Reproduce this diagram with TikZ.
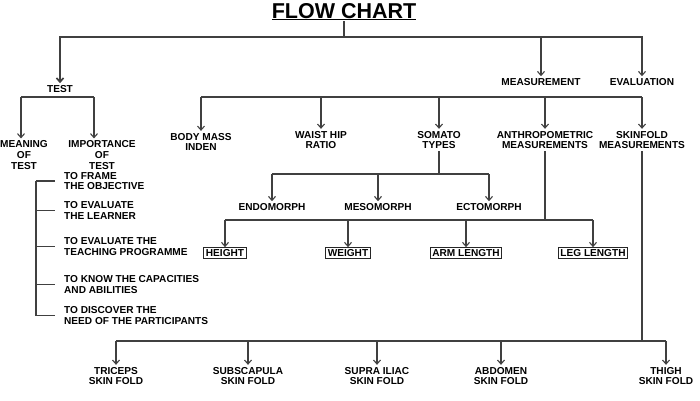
\documentclass[tikz,border=0pt]{standalone}
\usepackage{fontspec}
\setmainfont{Liberation Sans}
\usetikzlibrary{arrows.meta}

\begin{document}
\begin{tikzpicture}[x=1pt,y=-1pt,
  every node/.style={font=\bfseries\fontsize{10.1}{10.8}\selectfont,align=center,inner sep=2pt},
  line/.style={draw=black!75,line width=1.1pt},
  arr/.style={line,-{Straight Barb[length=4pt,width=7pt]}},
  box/.style={draw=black!85,line width=0.9pt,inner xsep=2pt,inner ysep=1.8pt}]
\useasboundingbox (0,0) rectangle (700,400);

\node[font=\bfseries\fontsize{21.5}{24}\selectfont,inner sep=1pt,anchor=base] (F) at (344,18) {\underline{FLOW CHART}};
\node (T) at (60,89) {TEST};
\node (M) at (541,82) {MEASUREMENT};
\node (E) at (642,82) {EVALUATION};

\node (T1) at (24,155) {MEANING\\OF\\TEST};
\node (T2) at (102,155) {IMPORTANCE\\OF\\TEST};
\node[anchor=west,align=left] (I1) at (62,181) {TO FRAME\\THE OBJECTIVE};
\node[anchor=west,align=left] (I2) at (62,210.5) {TO EVALUATE\\THE LEARNER};
\node[anchor=west,align=left] (I3) at (62,246.5) {TO EVALUATE THE\\TEACHING PROGRAMME};
\node[anchor=west,align=left] (I4) at (62,284.5) {TO KNOW THE CAPACITIES\\AND ABILITIES};
\node[anchor=west,align=left] (I5) at (62,315.5) {TO DISCOVER THE\\NEED OF THE PARTICIPANTS};

\node (M1) at (201,142) {BODY MASS\\INDEN};
\node (M2) at (321,140) {WAIST HIP\\RATIO};
\node (M3) at (439,140) {SOMATO\\TYPES};
\node (M4) at (545,140) {ANTHROPOMETRIC\\MEASUREMENTS};
\node (M5) at (642,140) {SKINFOLD\\MEASUREMENTS};

\node (S1) at (272,207) {ENDOMORPH};
\node (S2) at (378,207) {MESOMORPH};
\node (S3) at (489,207) {ECTOMORPH};

\node[box] (A1) at (225,253) {HEIGHT};
\node[box] (A2) at (348,253) {WEIGHT};
\node[box] (A3) at (466,253) {ARM LENGTH};
\node[box] (A4) at (593,253) {LEG LENGTH};

\node (K1) at (116,376) {TRICEPS\\SKIN FOLD};
\node (K2) at (248,376) {SUBSCAPULA\\SKIN FOLD};
\node (K3) at (377,376) {SUPRA ILIAC\\SKIN FOLD};
\node (K4) at (501,376) {ABDOMEN\\SKIN FOLD};
\node (K5) at (666,376) {THIGH\\SKIN FOLD};

\coordinate (C) at (344,37);
\coordinate (TB) at (0,97);
\coordinate (B) at (36,0);
\coordinate (MB) at (0,97);
\coordinate (SB) at (0,174);
\coordinate (AB) at (0,220);
\coordinate (KB) at (0,341);

\draw[line] (F.south) -- (C);
\draw[arr,line width=1.7pt] (C) -| (T);
\draw[arr] (C) -| (M);
\draw[arr] (C) -| (E);

\draw[line] (21,97) -- (94,97);
\draw[arr] (21,97) -- (21,0 |- T1.north);
\draw[arr] (94,97) -- (94,0 |- T2.north);

\draw[line] (B |- I1.west) -- (B |- I5.west);
\draw[line] (B |- I1.west) -- ([xshift=-7pt]I1.west);
\draw[line] (B |- I2.west) -- ([xshift=-7pt]I2.west);
\draw[line] (B |- I3.west) -- ([xshift=-7pt]I3.west);
\draw[line] (B |- I4.west) -- ([xshift=-7pt]I4.west);
\draw[line] (B |- I5.west) -- ([xshift=-7pt]I5.west);

\draw[line] (MB -| M1) -- (MB -| M5);
\draw[arr] (MB -| M1) -- (M1);
\draw[arr] (MB -| M2) -- (M2);
\draw[arr] (MB -| M3) -- (M3);
\draw[arr] (MB -| M4) -- (M4);
\draw[arr] (MB -| M5) -- (M5);

\draw[line] (M3) -- (M3 |- SB);
\draw[line] (SB -| S1) -- (SB -| S3);
\draw[arr] (SB -| S1) -- (S1);
\draw[arr] (SB -| S2) -- (S2);
\draw[arr] (SB -| S3) -- (S3);

\draw[line] (M4) -- (M4 |- AB);
\draw[line] (AB -| A1) -- (AB -| A4);
\draw[arr] (AB -| A1) -- (A1);
\draw[arr] (AB -| A2) -- (A2);
\draw[arr] (AB -| A3) -- (A3);
\draw[arr] (AB -| A4) -- (A4);

\draw[line] (M5) -- (M5 |- KB);
\draw[line] (KB -| K1) -- (KB -| K5);
\draw[arr] (KB -| K1) -- (K1);
\draw[arr] (KB -| K2) -- (K2);
\draw[arr] (KB -| K3) -- (K3);
\draw[arr] (KB -| K4) -- (K4);
\draw[arr] (KB -| K5) -- (K5);
\end{tikzpicture}
\end{document}
